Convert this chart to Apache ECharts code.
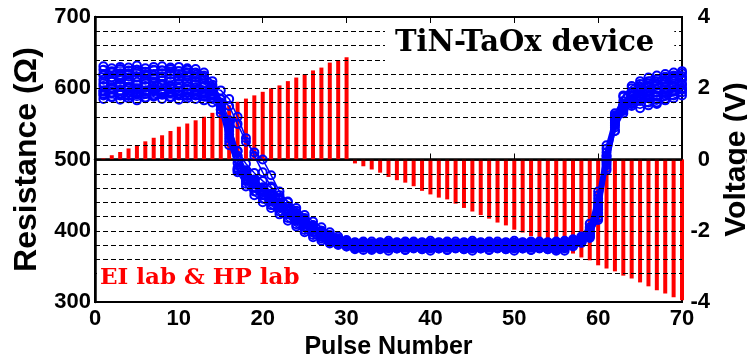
<!DOCTYPE html>
<html>
<head>
<meta charset="utf-8">
<script src="https://cdn.jsdelivr.net/npm/echarts@6/dist/echarts.min.js"></script>
<style>
  html, body { margin: 0; padding: 0; background: #fff; }
  #chart { width: 747px; height: 359px; }
</style>
</head>
<body>
<div id="chart"></div>
<script>
// pulse amplitude (V) for pulse 1..70
var pulseVolt = [
  0.03, 0.12, 0.21, 0.31, 0.40, 0.51, 0.61, 0.68, 0.80, 0.92,
  1.01, 1.10, 1.20, 1.31, 1.38, 1.52, 1.62, 1.71, 1.80, 1.90,
  2.00, 2.08, 2.20, 2.30, 2.39, 2.50, 2.58, 2.72, 2.78, 2.87,
  -0.11, -0.19, -0.28, -0.37, -0.49, -0.58, -0.65, -0.75, -0.88, -0.98,
  -1.07, -1.12, -1.24, -1.36, -1.46, -1.56, -1.66, -1.77, -1.85, -1.97,
  -2.05, -2.15, -2.27, -2.36, -2.47, -2.57, -2.64, -2.75, -2.83, -2.97,
  -3.06, -3.14, -3.26, -3.34, -3.45, -3.56, -3.67, -3.76, -3.87, -3.95
];

// resistance (ohm) for each measured cycle, pulse 1..70
var cycleA = [
  626, 624, 627, 625, 626, 623, 626, 625, 627, 624,
  626, 622, 618, 600, 565, 520, 488, 472, 461, 451,
  442, 433, 424, 415, 406, 398, 392, 387, 383, 380,
  381, 379, 382, 380, 378, 381, 379, 383, 380, 378,
  381, 379, 382, 380, 377, 381, 379, 382, 380, 378,
  381, 379, 382, 380, 383, 381, 385, 390, 402, 445,
  510, 565, 588, 600, 606, 610, 613, 616, 618, 621
];
var cycleB = [
  618, 615, 617, 619, 616, 618, 615, 617, 619, 616,
  617, 615, 612, 605, 580, 540, 495, 476, 465, 454,
  446, 437, 428, 419, 410, 402, 395, 389, 384, 381,
  377, 380, 376, 379, 381, 377, 380, 376, 379, 381,
  377, 380, 376, 379, 381, 377, 380, 376, 379, 381,
  377, 380, 376, 379, 378, 382, 384, 387, 396, 425,
  495, 548, 575, 588, 596, 601, 605, 608, 610, 612
];
var cycleC = [
  607, 609, 606, 608, 605, 607, 609, 606, 604, 607,
  608, 606, 603, 598, 585, 555, 505, 480, 468, 457,
  448, 439, 430, 421, 412, 404, 397, 391, 386, 382,
  379, 382, 378, 380, 383, 379, 377, 381, 378, 382,
  380, 377, 381, 379, 383, 378, 380, 382, 377, 380,
  383, 379, 381, 378, 382, 380, 383, 386, 392, 415,
  485, 540, 568, 582, 590, 594, 598, 601, 603, 605
];
var cycleD = [
  597, 599, 596, 600, 598, 595, 599, 597, 600, 596,
  598, 597, 595, 592, 578, 548, 500, 478, 466, 455,
  444, 435, 427, 418, 409, 401, 394, 388, 383, 379,
  376, 378, 375, 377, 379, 376, 378, 375, 377, 379,
  376, 378, 375, 377, 379, 376, 378, 375, 377, 379,
  376, 378, 375, 377, 376, 379, 381, 384, 393, 430,
  500, 552, 575, 584, 588, 586, 590, 594, 597, 600
];
var cycleE = [
  590, 588, 592, 589, 591, 587, 590, 592, 588, 591,
  589, 590, 588, 585, 575, 550, 512, 485, 470, 458,
  449, 440, 431, 422, 413, 405, 398, 392, 387, 383,
  380, 378, 381, 379, 377, 380, 378, 381, 379, 377,
  380, 378, 381, 379, 377, 380, 378, 381, 379, 377,
  380, 378, 381, 379, 377, 380, 382, 386, 398, 440,
  505, 555, 572, 578, 582, 580, 578, 585, 590, 594
];
var cycleF = [
  603, 601, 604, 602, 600, 603, 601, 604, 602, 600,
  603, 601, 602, 600, 597, 585, 560, 530, 505, 482,
  462, 446, 434, 424, 414, 405, 398, 391, 386, 381,
  378, 376, 379, 377, 375, 378, 376, 379, 377, 375,
  378, 376, 379, 377, 375, 378, 376, 379, 377, 375,
  378, 376, 379, 377, 374, 372, 380, 385, 392, 420,
  492, 545, 570, 585, 592, 596, 594, 598, 602, 606
];
var cycleG = [
  631, 628, 630, 629, 632, 628, 630, 631, 629, 630,
  628, 627, 622, 610, 585, 530, 482, 462, 450, 440,
  432, 423, 414, 406, 398, 391, 386, 382, 380, 378,
  374, 377, 373, 376, 372, 375, 373, 377, 374, 372,
  375, 373, 376, 374, 372, 375, 373, 376, 374, 372,
  375, 373, 376, 374, 372, 375, 378, 383, 395, 435,
  500, 560, 590, 603, 610, 615, 618, 620, 622, 624
];
var cycleH = [
  585, 587, 584, 586, 583, 586, 588, 585, 587, 584,
  586, 585, 583, 580, 570, 545, 505, 482, 472, 461,
  452, 443, 434, 425, 416, 407, 400, 394, 389, 385,
  383, 385, 382, 384, 386, 383, 385, 382, 384, 386,
  383, 385, 382, 384, 386, 383, 385, 382, 384, 386,
  383, 385, 382, 384, 385, 386, 388, 390, 405, 450,
  515, 558, 570, 575, 572, 576, 580, 583, 586, 590
];
var cycleI = [
  612, 610, 613, 611, 609, 612, 614, 611, 610, 613,
  611, 609, 607, 595, 575, 535, 486, 466, 455, 445,
  436, 427, 418, 409, 401, 394, 389, 384, 381, 379,
  384, 381, 385, 382, 380, 384, 381, 385, 382, 380,
  384, 381, 385, 382, 380, 384, 381, 385, 382, 380,
  384, 381, 385, 382, 384, 383, 386, 389, 400, 438,
  505, 550, 578, 590, 598, 603, 606, 609, 612, 614
];
var cycleJ = [
  595, 593, 596, 594, 592, 595, 597, 594, 593, 596,
  594, 593, 592, 590, 585, 575, 550, 525, 510, 500,
  478, 455, 440, 428, 418, 408, 400, 393, 387, 383,
  380, 382, 379, 381, 383, 380, 382, 379, 381, 383,
  380, 382, 379, 381, 383, 380, 382, 379, 381, 383,
  380, 382, 379, 381, 380, 378, 380, 384, 390, 418,
  488, 540, 565, 578, 585, 590, 588, 593, 596, 599
];
var cycleK = [
  620, 622, 619, 621, 623, 620, 618, 621, 623, 620,
  622, 619, 615, 602, 570, 525, 485, 470, 460, 450,
  441, 432, 423, 414, 405, 398, 392, 386, 382, 378,
  375, 373, 376, 374, 377, 375, 373, 376, 374, 377,
  375, 373, 376, 374, 377, 375, 373, 376, 374, 377,
  375, 373, 376, 374, 375, 377, 380, 384, 395, 432,
  498, 556, 582, 595, 602, 607, 610, 612, 615, 617
];
var cycleL = [
  592, 594, 591, 593, 595, 592, 590, 593, 595, 592,
  593, 591, 590, 587, 578, 552, 512, 494, 481, 470,
  460, 450, 441, 432, 422, 413, 405, 398, 392, 387,
  382, 384, 381, 383, 380, 382, 384, 381, 383, 380,
  382, 384, 381, 383, 380, 382, 384, 381, 383, 380,
  382, 384, 381, 383, 382, 384, 386, 392, 410, 455,
  520, 562, 574, 580, 585, 588, 584, 590, 595, 598
];
var cycles = [cycleA, cycleB, cycleC, cycleD, cycleE, cycleF,
              cycleG, cycleH, cycleI, cycleJ, cycleK, cycleL];

// dashed reference levels (ohm) and the 0 V level
var gridLevels = [680, 660, 640, 620, 600, 580, 560, 520, 480, 460, 440, 420, 400, 380, 360, 340];
var zeroLevel = 500;

var xTicks = { min: 0, max: 70, step: 10 };
var rTicks = { min: 300, max: 700, step: 100 };
var vTicks = { min: -4, max: 4, step: 2 };

var labelFont = { fontFamily: 'Liberation Sans', fontWeight: 'bold', fontSize: 22, color: '#000' };

function toPoints(arr) {
  return arr.map(function (v, i) { return [i + 1, v]; });
}

var chart = echarts.init(document.getElementById('chart'));

var series = [{
  name: 'Voltage',
  type: 'bar',
  xAxisIndex: 0,
  yAxisIndex: 1,
  barWidth: 4,
  itemStyle: { color: '#ff0000' },
  data: toPoints(pulseVolt)
}];

cycles.forEach(function (c, k) {
  var s = {
    name: 'cycle' + k,
    type: 'line',
    xAxisIndex: 0,
    yAxisIndex: 0,
    symbol: 'circle',
    symbolSize: 8,
    itemStyle: { color: 'rgba(0,0,0,0)', borderColor: '#0000ff', borderWidth: 2 },
    lineStyle: { color: '#0000ff', width: 1.5 },
    data: toPoints(c)
  };
  if (k === 0) {
    s.markLine = {
      silent: true,
      symbol: 'none',
      label: { show: false },
      lineStyle: { color: '#000', width: 1, type: [5, 3] },
      data: gridLevels.map(function (v) { return { yAxis: v }; }).concat([
        { yAxis: zeroLevel, lineStyle: { type: 'solid', width: 1.5, color: '#000' } }
      ])
    };
  }
  series.push(s);
});

chart.setOption({
  animation: false,
  backgroundColor: '#fff',
  title: [{
    text: 'TiN-TaOx device',
    left: 385,
    top: 23,
    padding: [6, 20, 6, 10],
    backgroundColor: '#fff',
    textStyle: { fontFamily: 'DejaVu Serif', fontWeight: 'bold', fontSize: 29, color: '#000' }
  }, {
    text: 'EI lab & HP lab',
    left: 97,
    top: 261,
    padding: [6, 14, 6, 3],
    backgroundColor: '#fff',
    textStyle: { fontFamily: 'DejaVu Serif', fontWeight: 'bold', fontSize: 23, color: '#ff0000' }
  }],
  grid: {
    left: 95, right: 65, top: 17, bottom: 57,
    containLabel: false,
    outerBoundsMode: 'none',
    show: true, borderColor: '#000', borderWidth: 2, backgroundColor: 'transparent'
  },
  xAxis: [{
    type: 'value',
    position: 'bottom',
    min: xTicks.min, max: xTicks.max, interval: xTicks.step,
    name: 'Pulse Number',
    nameLocation: 'middle',
    nameGap: 28,
    nameTextStyle: { fontFamily: 'Liberation Sans', fontWeight: 'bold', fontSize: 25, color: '#000' },
    axisLine: { show: true, lineStyle: { color: '#000', width: 2.5 } },
    axisTick: { show: true, inside: true, length: 6, lineStyle: { color: '#000', width: 1 } },
    axisLabel: Object.assign({ margin: 6 }, labelFont),
    splitLine: { show: false }
  }, {
    type: 'value',
    position: 'top',
    min: xTicks.min, max: xTicks.max, interval: xTicks.step,
    axisLine: { show: true, lineStyle: { color: '#000', width: 2 } },
    axisTick: { show: true, inside: true, length: 6, lineStyle: { color: '#000', width: 1 } },
    axisLabel: { show: false },
    splitLine: { show: false }
  }],
  yAxis: [{
    type: 'value',
    position: 'left',
    min: rTicks.min, max: rTicks.max, interval: rTicks.step,
    name: 'Resistance (Ω)',
    nameLocation: 'middle',
    nameRotate: 90,
    nameGap: 43,
    nameTextStyle: { fontFamily: 'Liberation Sans', fontWeight: 'bold', fontSize: 32, color: '#000' },
    axisLine: { show: true, lineStyle: { color: '#000', width: 2.5 } },
    axisTick: { show: false },
    axisLabel: Object.assign({ margin: 4 }, labelFont),
    splitLine: { show: false }
  }, {
    type: 'value',
    position: 'right',
    min: vTicks.min, max: vTicks.max, interval: vTicks.step,
    name: 'Voltage (V)',
    nameLocation: 'middle',
    nameRotate: 90,
    nameGap: 40,
    nameTextStyle: { fontFamily: 'Liberation Sans', fontWeight: 'bold', fontSize: 30, color: '#000' },
    axisLine: { show: true, lineStyle: { color: '#000', width: 2 } },
    axisTick: { show: false },
    axisLabel: Object.assign({ margin: 28, align: 'right' }, labelFont),
    splitLine: { show: false }
  }],
  series: series
});
</script>
</body>
</html>
